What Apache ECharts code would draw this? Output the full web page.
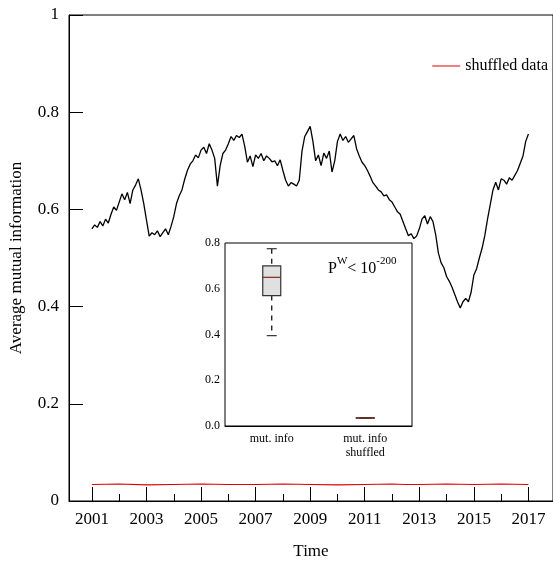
<!DOCTYPE html>
<html><head><meta charset="utf-8">
<script src="https://cdn.jsdelivr.net/npm/echarts@6/dist/echarts.min.js"></script>
<style>html,body{margin:0;padding:0;background:#fff}#c{width:553px;height:565px}</style>
</head><body><div id="c"></div>
<script>
const years = [2001.0,2001.1,2001.2,2001.3,2001.4,2001.5,2001.6,2001.7,2001.8,2001.9,2002.0,2002.1,2002.2,2002.3,2002.4,2002.5,2002.6,2002.7,2002.8,2002.9,2003.0,2003.1,2003.2,2003.3,2003.4,2003.5,2003.6,2003.7,2003.8,2003.9,2004.0,2004.1,2004.2,2004.3,2004.4,2004.5,2004.6,2004.7,2004.8,2004.9,2005.0,2005.1,2005.2,2005.3,2005.4,2005.5,2005.6,2005.7,2005.8,2005.9,2006.0,2006.1,2006.2,2006.3,2006.4,2006.5,2006.6,2006.7,2006.8,2006.9,2007.0,2007.1,2007.2,2007.3,2007.4,2007.5,2007.6,2007.7,2007.8,2007.9,2008.0,2008.1,2008.2,2008.3,2008.4,2008.5,2008.6,2008.7,2008.8,2008.9,2009.0,2009.1,2009.2,2009.3,2009.4,2009.5,2009.6,2009.7,2009.8,2009.9,2010.0,2010.1,2010.2,2010.3,2010.4,2010.5,2010.6,2010.7,2010.8,2010.9,2011.0,2011.1,2011.2,2011.3,2011.4,2011.5,2011.6,2011.7,2011.8,2011.9,2012.0,2012.1,2012.2,2012.3,2012.4,2012.5,2012.6,2012.7,2012.8,2012.9,2013.0,2013.1,2013.2,2013.3,2013.4,2013.5,2013.6,2013.7,2013.8,2013.9,2014.0,2014.1,2014.2,2014.3,2014.4,2014.5,2014.6,2014.7,2014.8,2014.9,2015.0,2015.1,2015.2,2015.3,2015.4,2015.5,2015.6,2015.7,2015.8,2015.9,2016.0,2016.1,2016.2,2016.3,2016.4,2016.5,2016.6,2016.7,2016.8,2016.9,2017.0];
const mutInfo = [0.560,0.568,0.563,0.575,0.566,0.580,0.572,0.590,0.605,0.598,0.615,0.632,0.620,0.635,0.612,0.640,0.650,0.663,0.640,0.612,0.578,0.545,0.552,0.548,0.556,0.544,0.552,0.560,0.548,0.565,0.585,0.612,0.628,0.640,0.662,0.680,0.693,0.700,0.712,0.706,0.722,0.728,0.715,0.735,0.722,0.705,0.648,0.690,0.715,0.722,0.735,0.750,0.742,0.752,0.748,0.755,0.730,0.697,0.710,0.688,0.712,0.705,0.715,0.700,0.710,0.705,0.698,0.700,0.690,0.702,0.680,0.660,0.648,0.655,0.652,0.648,0.660,0.720,0.750,0.760,0.771,0.740,0.700,0.712,0.690,0.716,0.705,0.720,0.677,0.700,0.740,0.755,0.742,0.750,0.738,0.745,0.752,0.725,0.710,0.697,0.690,0.680,0.668,0.655,0.648,0.640,0.636,0.628,0.630,0.620,0.615,0.605,0.595,0.590,0.575,0.560,0.546,0.550,0.540,0.545,0.560,0.580,0.587,0.570,0.585,0.575,0.548,0.510,0.490,0.480,0.462,0.452,0.440,0.425,0.410,0.397,0.410,0.417,0.410,0.430,0.465,0.478,0.500,0.520,0.546,0.580,0.610,0.640,0.656,0.640,0.663,0.660,0.652,0.665,0.660,0.670,0.680,0.695,0.710,0.740,0.755];
const shuffled = [0.034,0.035,0.033,0.034,0.035,0.034,0.034,0.035,0.034,0.033,0.034,0.035,0.034,0.034,0.035,0.034,0.035,0.034];
const shuffledYears = [2001,2002,2003,2004,2005,2006,2007,2008,2009,2010,2011,2012,2012.5,2013,2014,2015,2016,2017];
const xLabelYears = [2001,2003,2005,2007,2009,2011,2013,2015,2017];
const xMinorYears = [2002,2004,2006,2008,2010,2012,2014,2016];
const boxCats = ['mut. info','mut. info\nshuffled'];
const boxStats = [[0.395,0.570,0.650,0.700,0.775],[0.034,0.034,0.035,0.036,0.036]];

const F = 'Liberation Serif';
const chart = echarts.init(document.getElementById('c'));
chart.setOption({
  animation:false,
  textStyle:{fontFamily:F},
  legend:{right:0,top:53,itemWidth:28,itemHeight:1,icon:'rect',itemGap:8,textStyle:{fontFamily:F,fontSize:16,color:'#000'},data:['shuffled data']},
  grid:[{left:68,top:15,right:-2,bottom:61,show:true,borderColor:'#000',borderWidth:1},
        {left:225,top:243,right:141,bottom:139,show:true,borderColor:'#000',borderWidth:1,backgroundColor:'#fff',z:5}],
  xAxis:[{type:'value',gridIndex:0,min:2000.16,max:2017.9,name:'Time',nameLocation:'middle',nameGap:42,
          nameTextStyle:{fontFamily:F,fontSize:17,color:'#000'},
          axisLine:{lineStyle:{color:'#000'}},splitLine:{show:false},
          axisTick:{inside:true,length:14,customValues:xLabelYears,lineStyle:{color:'#000'}},
          axisLabel:{customValues:xLabelYears,fontFamily:F,fontSize:17,color:'#000',margin:10,formatter:v=>String(Math.round(v))}},
         {type:'category',gridIndex:1,data:boxCats,
          axisLine:{lineStyle:{color:'#000'}},axisTick:{show:false},
          axisLabel:{fontFamily:F,fontSize:12,color:'#000',lineHeight:14,margin:6}},
         {type:'value',gridIndex:0,position:'bottom',min:2000.16,max:2017.9,
          axisLine:{show:false},splitLine:{show:false},
          axisTick:{inside:true,length:7,customValues:xMinorYears,lineStyle:{color:'#000'}},
          axisLabel:{show:false}}],
  yAxis:[{type:'value',gridIndex:0,min:0,max:1,interval:0.2,name:'Average mutual information',nameLocation:'middle',nameGap:44,
          nameTextStyle:{fontFamily:F,fontSize:17,color:'#000'},
          axisLine:{lineStyle:{color:'#000'}},splitLine:{show:false},
          axisTick:{inside:true,length:14,lineStyle:{color:'#000'}},
          axisLabel:{fontFamily:F,fontSize:17,color:'#000',margin:10,formatter:v=>String(+v.toFixed(1))}},
         {type:'value',gridIndex:1,min:0,max:0.8,interval:0.2,
          axisLine:{lineStyle:{color:'#000'}},splitLine:{show:false},
          axisTick:{inside:true,length:5,lineStyle:{color:'#000'}},
          axisLabel:{fontFamily:F,fontSize:12,color:'#000',margin:5,formatter:v=>v.toFixed(1)}}],
  series:[
    {type:'line',name:'mut',xAxisIndex:0,yAxisIndex:0,data:years.map((y,i)=>[y,mutInfo[i]]),showSymbol:false,lineStyle:{color:'#000',width:1.3},z:2},
    {type:'line',name:'shuffled data',xAxisIndex:0,yAxisIndex:0,data:shuffledYears.map((y,i)=>[y,shuffled[i]]),showSymbol:false,itemStyle:{color:'#e00000'},lineStyle:{color:'#e00000',width:1.2},z:2},
    {type:'custom',xAxisIndex:1,yAxisIndex:1,z:10,
     data:boxStats.map((s,i)=>[i].concat(s)),
     renderItem:(params,api)=>{
       const i=api.value(0);
       const p=k=>api.coord([i,api.value(k)]);
       const lo=p(1),q1=p(2),md=p(3),q3=p(4),hi=p(5);
       const x=lo[0],hw=9,cw=5;
       const st={stroke:'#333',lineWidth:1.2};
       const dash={stroke:'#000',lineWidth:1.2,lineDash:[5,5]};
       return {type:'group',children:[
         {type:'line',shape:{x1:x,y1:hi[1],x2:x,y2:q3[1]},style:dash},
         {type:'line',shape:{x1:x,y1:q1[1],x2:x,y2:lo[1]},style:dash},
         {type:'line',shape:{x1:x-cw,y1:hi[1],x2:x+cw,y2:hi[1]},style:st},
         {type:'line',shape:{x1:x-cw,y1:lo[1],x2:x+cw,y2:lo[1]},style:st},
         {type:'rect',shape:{x:x-hw,y:q3[1],width:2*hw,height:q1[1]-q3[1]},style:{fill:'#e0e0e0',stroke:'#333',lineWidth:1.2}},
         {type:'line',shape:{x1:x-hw,y1:md[1],x2:x+hw,y2:md[1]},style:{stroke:'#7a2a1a',lineWidth:1.2}}
       ]};
     }}
  ],
  graphic:[{type:'text',left:328,top:256,z:20,style:{
    text:'{b|P}{s|W}{b|< 10}{s|-200}',fontFamily:F,
    rich:{b:{fontFamily:F,fontSize:16,color:'#000',verticalAlign:'bottom'},
          s:{fontFamily:F,fontSize:11,color:'#000',verticalAlign:'top',padding:[0,0,10,0]}}}}]
});
</script></body></html>
